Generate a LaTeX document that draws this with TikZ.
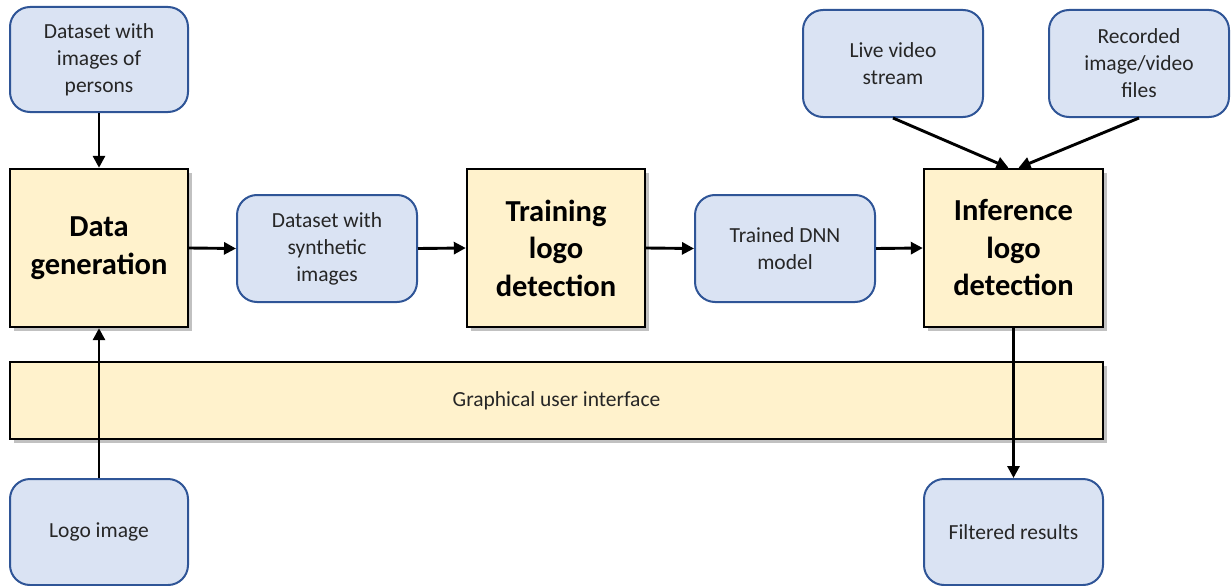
\documentclass[tikz,border=0pt]{standalone}
\usepackage{fontspec}
\setmainfont{Carlito}
\usetikzlibrary{arrows.meta,shadows}
\definecolor{bfill}{HTML}{DAE3F3}
\definecolor{bdraw}{HTML}{2F5597}
\definecolor{yfill}{HTML}{FFF2CC}
\tikzset{
  bluebox/.style={draw=bdraw, fill=bfill, line width=2pt, rounded corners=20pt, align=center,
    font=\fontsize{21.5}{27}\selectfont, text=black!85, inner sep=0pt},
  yellowbox/.style={draw=black, fill=yfill, line width=2.4pt, align=center,
    font=\fontsize{30.5}{37.5}\selectfont\bfseries, inner sep=0pt,
    drop shadow={shadow xshift=4pt, shadow yshift=-4pt, opacity=0.35, fill=black!70}},
  guibox/.style={draw=black, fill=yfill, line width=2.4pt, font=\fontsize{21.5}{27}\selectfont, text=black!85, inner sep=0pt,
    drop shadow={shadow xshift=4pt, shadow yshift=-4pt, opacity=0.35, fill=black!70}},
  conn/.style={line width=2.9pt, -{Triangle[length=12pt,width=12pt]}}
}
\begin{document}
\begin{tikzpicture}[x=1pt,y=-1pt]
\useasboundingbox (0,0) rectangle (1231,586);
% GUI bar
\node[guibox, minimum width=1093pt, minimum height=77pt] (gui) at (556.5,400.5) {Graphical user interface};
% yellow process boxes
\node[yellowbox, minimum width=178pt, minimum height=158pt] (dg) at (99,248) {Data\\generation};
\node[yellowbox, minimum width=178pt, minimum height=158pt] (tr) at (556,248) {Training\\logo\\detection};
\node[yellowbox, minimum width=179pt, minimum height=158pt] (inf) at (1013.5,248) {Inference\\logo\\detection};
% blue data boxes
\node[bluebox, minimum width=178pt, minimum height=105pt] (dp) at (99,59.5) {Dataset with\\images of\\persons};
\node[bluebox, minimum width=180pt, minimum height=107pt] (ds) at (327,248.5) {Dataset with\\synthetic\\images};
\node[bluebox, minimum width=180pt, minimum height=107pt] (dnn) at (785,248.5) {Trained DNN\\model};
\node[bluebox, minimum width=180pt, minimum height=107pt] (live) at (893,63.5) {Live video\\stream};
\node[bluebox, minimum width=180pt, minimum height=107pt] (rec) at (1139,63.5) {Recorded\\image/video\\files};
\node[bluebox, minimum width=178pt, minimum height=106pt] (logo) at (99,532) {Logo image};
\node[bluebox, minimum width=179pt, minimum height=106pt] (fr) at (1013.5,532) {Filtered results};
% connectors
\draw[conn] (dp.south) -- (dg.north);
\draw[conn] (logo.north) -- (dg.south);
\draw[conn] (dg.east) -- (ds.west);
\draw[conn] (ds.east) -- (tr.west);
\draw[conn] (tr.east) -- (dnn.west);
\draw[conn] (dnn.east) -- (inf.west);
\draw[conn] (live.south) -- ([xshift=-5pt]inf.north);
\draw[conn] (rec.south) -- ([xshift=5pt]inf.north);
\draw[conn] (inf.south) -- (fr.north);
\end{tikzpicture}
\end{document}
